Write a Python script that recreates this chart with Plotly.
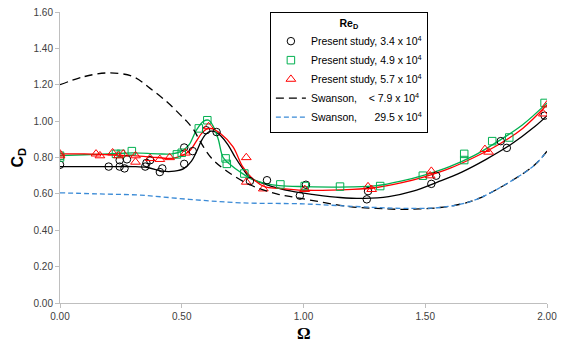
import plotly.graph_objects as go

# ---- data ----
# Present study, Re = 3.4e4 (black circles)
c34_x = [0.00, 0.20, 0.245, 0.265, 0.245, 0.275, 0.35, 0.355, 0.37, 0.41, 0.42, 0.51, 0.51, 0.545,
         0.60, 0.643, 0.78, 0.85, 0.985, 1.01, 1.26, 1.265, 1.525, 1.545, 1.81, 1.835, 1.99]
c34_y = [0.76, 0.75, 0.75, 0.74, 0.785, 0.79, 0.75, 0.77, 0.785, 0.72, 0.74, 0.765, 0.855, 0.835,
         0.95, 0.94, 0.67, 0.675, 0.59, 0.65, 0.57, 0.615, 0.655, 0.70, 0.89, 0.853, 1.03]
# Present study, Re = 4.9e4 (green squares)
c49_x = [0.00, 0.00, 0.23, 0.25, 0.295, 0.48, 0.50, 0.57, 0.605, 0.68, 0.685, 0.757, 0.905, 1.005,
         1.15, 1.315, 1.49, 1.66, 1.66, 1.775, 1.845, 1.99]
c49_y = [0.80, 0.81, 0.82, 0.82, 0.835, 0.817, 0.826, 0.96, 1.005, 0.795, 0.765, 0.712, 0.652, 0.643,
         0.64, 0.643, 0.70, 0.82, 0.786, 0.89, 0.91, 1.10]
# Present study, Re = 5.7e4 (red triangles)
c57_x = [0.00, 0.00, 0.148, 0.164, 0.216, 0.24, 0.26, 0.31, 0.31, 0.37, 0.41, 0.45, 0.515, 0.61,
         0.765, 0.765, 0.835, 1.005, 1.265, 1.28, 1.52, 1.525, 1.745, 1.76, 1.985, 2.00]
c57_y = [0.82, 0.81, 0.82, 0.81, 0.826, 0.81, 0.82, 0.81, 0.775, 0.795, 0.79, 0.80, 0.825, 0.97,
         0.80, 0.665, 0.628, 0.625, 0.64, 0.625, 0.70, 0.725, 0.845, 0.83, 1.04, 1.09]

# fitted curves through the measurements
f34_x = [0, 0.1, 0.2, 0.3, 0.36, 0.42, 0.47, 0.51, 0.54, 0.56, 0.58, 0.60, 0.62, 0.64, 0.66, 0.69,
         0.72, 0.75, 0.78, 0.85, 0.95, 1.05, 1.15, 1.25, 1.35, 1.45, 1.55, 1.65, 1.75, 1.85, 1.95, 2.0]
f34_y = [0.75, 0.75, 0.75, 0.75, 0.745, 0.725, 0.725, 0.74, 0.78, 0.83, 0.89, 0.93, 0.945, 0.94, 0.92, 0.87,
         0.80, 0.74, 0.69, 0.65, 0.615, 0.595, 0.58, 0.575, 0.585, 0.615, 0.665, 0.72, 0.79, 0.87, 0.97, 1.03]
f49_x = [0, 0.1, 0.2, 0.3, 0.4, 0.46, 0.5, 0.53, 0.56, 0.59, 0.61, 0.63, 0.65, 0.67, 0.70, 0.74, 0.79,
         0.85, 0.9, 1.0, 1.2, 1.3, 1.4, 1.5, 1.6, 1.7, 1.8, 1.9, 2.0]
f49_y = [0.81, 0.815, 0.82, 0.825, 0.82, 0.82, 0.835, 0.87, 0.95, 1.0, 1.005, 0.97, 0.9, 0.80, 0.76, 0.72, 0.68,
         0.655, 0.645, 0.64, 0.638, 0.645, 0.67, 0.705, 0.75, 0.81, 0.89, 0.98, 1.10]
f57_x = [0, 0.1, 0.2, 0.3, 0.4, 0.46, 0.5, 0.535, 0.56, 0.58, 0.6, 0.62, 0.66, 0.71, 0.75, 0.79, 0.84,
         0.9, 1.0, 1.2, 1.3, 1.4, 1.5, 1.6, 1.7, 1.8, 1.9, 2.0]
f57_y = [0.82, 0.82, 0.815, 0.81, 0.80, 0.795, 0.81, 0.84, 0.89, 0.93, 0.955, 0.96, 0.93, 0.86, 0.75, 0.685, 0.64,
         0.63, 0.62, 0.625, 0.635, 0.66, 0.695, 0.74, 0.80, 0.87, 0.96, 1.09]

# Swanson data
sw79_x = [0, 0.1, 0.2, 0.3, 0.37, 0.44, 0.49, 0.52, 0.55, 0.575, 0.62, 0.68, 0.78, 0.89, 0.99, 1.19,
          1.3, 1.42, 1.56, 1.65, 1.72, 1.86, 1.95, 2.0]
sw79_y = [1.20, 1.245, 1.265, 1.245, 1.18, 1.105, 1.04, 1.0, 0.95, 0.89, 0.80, 0.73, 0.65, 0.60, 0.575, 0.53,
          0.52, 0.515, 0.525, 0.545, 0.575, 0.676, 0.76, 0.835]
sw295_x = [0, 0.15, 0.33, 0.53, 0.74, 1.0, 1.15, 1.3, 1.42, 1.56, 1.65, 1.72, 1.86, 1.95, 2.0]
sw295_y = [0.606, 0.60, 0.593, 0.57, 0.551, 0.545, 0.535, 0.525, 0.52, 0.525, 0.545, 0.575, 0.676, 0.76, 0.835]

# legend labels
lab34 = "Present study, 3.4 x 10<sup>4</sup>"
lab49 = "Present study, 4.9 x 10<sup>4</sup>"
lab57 = "Present study, 5.7 x 10<sup>4</sup>"
lab79 = "Swanson,    < 7.9 x 10<sup>4</sup>"
lab295 = "Swanson,      29.5 x 10<sup>4</sup>"
x_title = "<b>Ω</b>"
y_title = "<b>C<sub>D</sub></b>"

x_ticks = [0.0, 0.5, 1.0, 1.5, 2.0]
y_ticks = [0.0, 0.2, 0.4, 0.6, 0.8, 1.0, 1.2, 1.4, 1.6]

BLACK = "#000000"
GREEN = "#00b050"
RED = "#ff0000"
BLUE = "#3a8ad6"

fig = go.Figure()

# fitted lines (no legend)
fig.add_trace(go.Scatter(x=f34_x, y=f34_y, mode="lines", line=dict(color=BLACK, width=1.3, shape="spline"),
                         showlegend=False, hoverinfo="skip"))
fig.add_trace(go.Scatter(x=f49_x, y=f49_y, mode="lines", line=dict(color=GREEN, width=1.3, shape="spline"),
                         showlegend=False, hoverinfo="skip"))
fig.add_trace(go.Scatter(x=f57_x, y=f57_y, mode="lines", line=dict(color=RED, width=1.3, shape="spline"),
                         showlegend=False, hoverinfo="skip"))

# markers
fig.add_trace(go.Scatter(x=c34_x, y=c34_y, mode="markers", name=lab34,
                         marker=dict(symbol="circle-open", size=7.5, color=BLACK, line=dict(width=1, color=BLACK))))
fig.add_trace(go.Scatter(x=c49_x, y=c49_y, mode="markers", name=lab49,
                         marker=dict(symbol="square-open", size=7.5, color=GREEN, line=dict(width=1, color=GREEN))))
fig.add_trace(go.Scatter(x=c57_x, y=c57_y, mode="markers", name=lab57,
                         marker=dict(symbol="triangle-up-open", size=8.5, color=RED, line=dict(width=1, color=RED))))

# Swanson
fig.add_trace(go.Scatter(x=sw79_x, y=sw79_y, mode="lines", name=lab79,
                         line=dict(color=BLACK, width=1.3, dash="8px,5px", shape="spline")))
fig.add_trace(go.Scatter(x=sw295_x, y=sw295_y, mode="lines", name=lab295,
                         line=dict(color=BLUE, width=1.3, dash="5px,3px", shape="spline")))

axis_font = dict(family="Liberation Sans", size=10, color="#404040")

fig.update_layout(
    width=568, height=343,
    margin=dict(l=60, r=21, t=12, b=40, autoexpand=False),
    paper_bgcolor="white", plot_bgcolor="white",
    font=dict(family="Liberation Sans", size=10, color="#000000"),
    legend=dict(
        x=0.431, y=1.0, xanchor="left", yanchor="top",
        bordercolor="#000000", borderwidth=1, bgcolor="white",
        font=dict(family="Liberation Sans", size=10.5, color="#000000"),
        title=dict(text="<b>Re<sub>D</sub></b>", side="top center",
                   font=dict(family="Liberation Sans", size=10.5)),
    ),
    xaxis=dict(
        range=[0, 2.0], tickvals=x_ticks, ticktext=[f"{v:.2f}" for v in x_ticks],
        showgrid=False, zeroline=False, showline=True, linecolor="#bfbfbf", linewidth=1,
        ticks="outside", ticklen=4, tickcolor="#bfbfbf", tickfont=axis_font, automargin=False,
    ),
    yaxis=dict(
        range=[0, 1.6], tickvals=y_ticks, ticktext=[f"{v:.2f}" for v in y_ticks],
        showgrid=False, zeroline=False, showline=True, linecolor="#bfbfbf", linewidth=1,
        ticks="outside", ticklen=4, tickcolor="#bfbfbf", tickfont=axis_font, automargin=False,
    ),
    annotations=[
        dict(text=x_title, xref="paper", yref="paper", x=0.5, y=0, yshift=-30, yanchor="middle",
             showarrow=False, font=dict(family="Liberation Serif", size=17, color="#000000")),
        dict(text=y_title, xref="paper", yref="paper", x=0, y=0.5, xshift=-42, xanchor="center",
             yanchor="middle", textangle=-90, showarrow=False,
             font=dict(family="Liberation Sans", size=16, color="#000000")),
    ],
)

fig.write_html("out.html")
